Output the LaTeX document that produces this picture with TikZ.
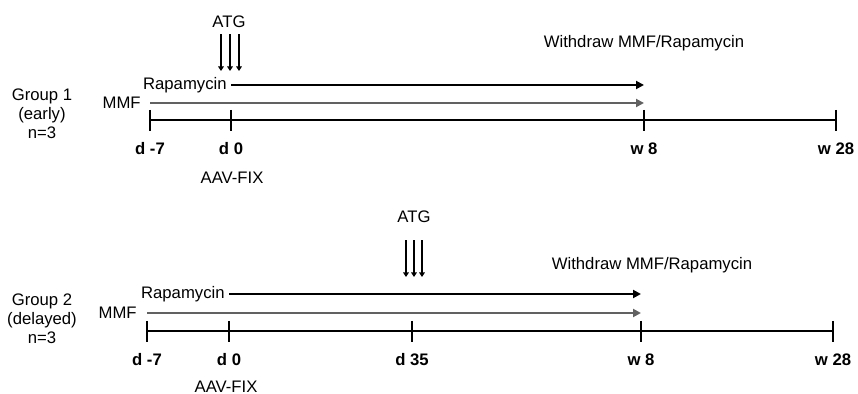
\documentclass[tikz,border=0pt]{standalone}
\usepackage{fontspec}
\setmainfont{Liberation Sans}
\usetikzlibrary{arrows.meta,calc}

\begin{document}
\begin{tikzpicture}[
    x=0.02cm, y=-0.02cm,
    font=\fontsize{9.5pt}{10.8pt}\selectfont,
    lbl/.style={inner sep=0pt},
    day/.style={inner sep=0pt, font=\fontsize{9.5pt}{10.8pt}\selectfont\bfseries},
    axis/.style={line width=1.1pt},
    drug/.style={-{Triangle[length=4.5pt,width=4.5pt]}, line width=1.1pt},
    mmf/.style={drug, draw=black!62, fill=black!62},
    atg/.style={-{Triangle[length=2.6pt,width=3.2pt]}, line width=1.6pt}
  ]
    \useasboundingbox (0,0) rectangle (858,394);

    % Group 1 (early)
    \foreach \x/\n/\t in {150/m7/d -7, 231/d0/d 0, 644/w8/w 8, 836/w28/w 28} {
      \coordinate (a\n) at (\x,120);
      \draw[axis] (\x,110) -- (\x,131);
      \node[day] (la\n) at (\x,149) {\t};
    }
    \draw[axis] (am7) -- (aw28);
    \node[lbl, align=center] (grp1) at (42,113.5) {Group 1\\(early)\\n=3};
    \node[lbl, anchor=east] (mmf1) at (141,103) {MMF};
    \node[lbl, anchor=east, inner xsep=2.3pt] (rapa1) at (231,85) {Rapamycin};
    \draw[mmf] (am7 |- mmf1.east) -- (aw8 |- mmf1.east);
    \draw[drug] (rapa1.east) -- (rapa1.east -| aw8);
    \node[lbl] (atg1) at (229,22) {ATG};
    \foreach \dx in {-9,0,9}
      \draw[atg] ($(atg1.south)+(\dx+1,6)$) -- ($(ad0)+(\dx-1,-49)$);
    \node[lbl] (wd1) at (644,43) {Withdraw MMF/Rapamycin};
    \node[lbl] (aav1) at (232,178) {AAV-FIX};

    % Group 2 (delayed)
    \foreach \x/\n/\t in {147/m7/d -7, 229/d0/d 0, 412/d35/d 35, 641/w8/w 8, 833/w28/w 28} {
      \coordinate (b\n) at (\x,331);
      \draw[axis] (\x,321) -- (\x,342);
      \node[day] (lb\n) at (\x,360) {\t};
    }
    \draw[axis] (bm7) -- (bw28);
    \node[lbl, align=center] (grp2) at (42,319) {Group 2\\(delayed)\\n=3};
    \node[lbl, anchor=east] (mmf2) at (137,313) {MMF};
    \node[lbl, anchor=east, inner xsep=2.3pt] (rapa2) at (229,294) {Rapamycin};
    \draw[mmf] (bm7 |- mmf2.east) -- (bw8 |- mmf2.east);
    \draw[drug] (rapa2.east) -- (rapa2.east -| bw8);
    \node[lbl] (atg2) at (414,217) {ATG};
    \foreach \dx in {-8,0,8}
      \draw[atg] ($(atg2.south)+(\dx,17)$) -- ($(bd35)+(\dx+2,-54)$);
    \node[lbl] (wd2) at (652,265) {Withdraw MMF/Rapamycin};
    \node[lbl] (aav2) at (226,387) {AAV-FIX};
\end{tikzpicture}
\end{document}
